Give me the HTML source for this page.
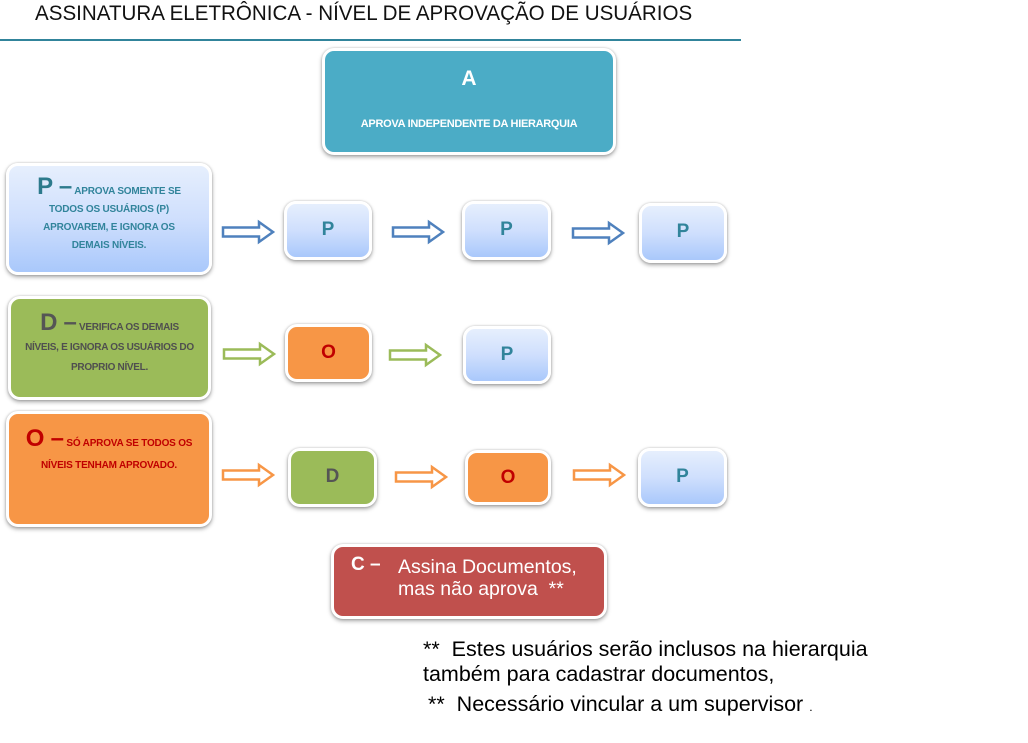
<!DOCTYPE html>
<html><head><meta charset="utf-8"><style>
body{margin:0;width:1028px;height:743px;background:#fff;position:relative;overflow:hidden;font-family:"Liberation Sans",sans-serif}
.b{position:absolute;box-sizing:border-box;border:3px solid #fff;border-radius:12px;box-shadow:0 2px 4px rgba(0,0,0,.35),0 0 2px rgba(0,0,0,.2);text-align:center;font-weight:bold}
.blue{background:linear-gradient(#e6effd,#cfdffd 50%,#a9c8fb)}
.green{background:#9bbb59}
.org{background:#f79646}
.sm{font-size:19px;line-height:51px}
.t{position:absolute;white-space:nowrap}
svg{position:absolute;left:0;top:0}
</style></head><body>
<div class="t" style="left:35px;top:2px;font-size:21px;color:#111;transform:scaleX(0.98);transform-origin:left top">ASSINATURA ELETRÔNICA - NÍVEL DE APROVAÇÃO DE USUÁRIOS</div>
<div style="position:absolute;left:0;top:39px;width:741px;height:2px;background:#31849b"></div>

<div class="b" style="left:322px;top:48px;width:294px;height:107px;background:#4bacc6;color:#fff">
<div style="font-size:21px;margin-top:16px">A</div>
<div style="font-size:11px;margin-top:27px;letter-spacing:-0.3px">APROVA INDEPENDENTE DA HIERARQUIA</div></div>

<div class="b blue" style="left:6px;top:163px;width:206px;height:112px;color:#31849b;font-size:10px;line-height:18px;padding-top:12px;letter-spacing:-0.2px">
<span style="font-size:24px;color:#2c7a8c">P –</span> APROVA SOMENTE SE<br>TODOS OS USUÁRIOS (P)<br>APROVAREM, E IGNORA OS<br>DEMAIS NÍVEIS.</div>

<div class="b green" style="left:8px;top:296px;width:203px;height:104px;color:#4f4f4f;font-size:10px;line-height:20px;padding-top:14px;letter-spacing:-0.3px">
<span style="font-size:24px;color:#555">D –</span> VERIFICA OS DEMAIS<br>NÍVEIS, E IGNORA OS USUÁRIOS DO<br>PROPRIO NÍVEL.</div>

<div class="b org" style="left:6px;top:411px;width:206px;height:116px;color:#c00000;font-size:10px;line-height:22px;padding-top:14px;letter-spacing:-0.2px">
<span style="font-size:24px;color:#c00000">O –</span> SÓ APROVA SE TODOS OS<br>NÍVEIS TENHAM APROVADO.</div>

<div class="b blue sm" style="left:284px;top:201px;width:88px;height:59px;color:#31849b">P</div>
<div class="b blue sm" style="left:462px;top:201px;width:89px;height:59px;color:#31849b">P</div>
<div class="b blue sm" style="left:639px;top:203px;width:88px;height:60px;color:#31849b">P</div>

<div class="b org sm" style="left:285px;top:324px;width:87px;height:58px;color:#c00000">O</div>
<div class="b blue sm" style="left:463px;top:326px;width:88px;height:58px;color:#31849b">P</div>

<div class="b green sm" style="left:288px;top:448px;width:89px;height:59px;color:#555">D</div>
<div class="b org sm" style="left:465px;top:450px;width:86px;height:55px;color:#c00000;line-height:49px">O</div>
<div class="b blue sm" style="left:638px;top:448px;width:89px;height:59px;color:#31849b">P</div>

<div class="b" style="left:331px;top:544px;width:276px;height:75px;background:#c0504d;color:#fff;text-align:left">
<div class="t" style="left:17px;top:7px;font-size:19px">C –</div>
<div class="t" style="left:64px;top:9px;font-size:19.5px;font-weight:normal;line-height:22px">Assina Documentos,<br>mas não aprova &nbsp;**</div></div>

<div class="t" style="left:423px;top:637px;font-size:21.5px;line-height:25px;color:#000">**&nbsp; Estes usuários serão inclusos na hierarquia<br>também para cadastrar documentos,</div>
<div class="t" style="left:428px;top:692px;font-size:21.5px;color:#000">**&nbsp; Necessário vincular a um supervisor <span style="font-size:12px">.</span></div>

<svg width="1028" height="743">
<g stroke="#4f81bd" fill="#fff" stroke-width="2.5">
<path transform="translate(223,232)" d="M0,-4.5 H36 V-10 L50,0 L36,10 V4.5 H0 Z"/>
<path transform="translate(393,232)" d="M0,-4.5 H36 V-10 L50,0 L36,10 V4.5 H0 Z"/>
<path transform="translate(573,233)" d="M0,-4.5 H36 V-10 L50,0 L36,10 V4.5 H0 Z"/>
</g>
<g stroke="#9bbb59" fill="#fff" stroke-width="2.5">
<path transform="translate(224,354)" d="M0,-4.5 H36 V-10 L50,0 L36,10 V4.5 H0 Z"/>
<path transform="translate(390,355)" d="M0,-4.5 H36 V-10 L50,0 L36,10 V4.5 H0 Z"/>
</g>
<g stroke="#f79646" fill="#fff" stroke-width="2.5">
<path transform="translate(223,475)" d="M0,-4.5 H36 V-10 L50,0 L36,10 V4.5 H0 Z"/>
<path transform="translate(396,477)" d="M0,-4.5 H36 V-10 L50,0 L36,10 V4.5 H0 Z"/>
<path transform="translate(574,475)" d="M0,-4.5 H36 V-10 L50,0 L36,10 V4.5 H0 Z"/>
</g>
</svg>
</body></html>
